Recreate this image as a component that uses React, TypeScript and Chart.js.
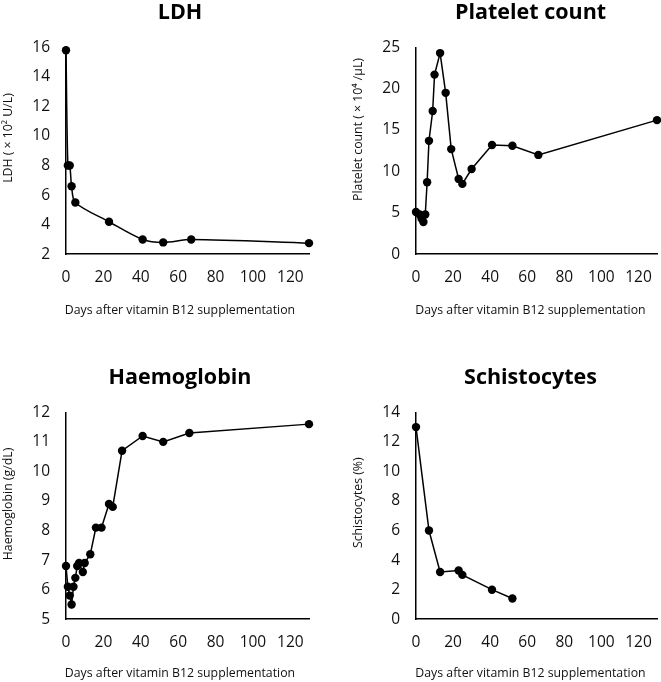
import React, { useEffect, useRef } from 'react';
import { Chart, registerables } from 'chart.js';

Chart.register(...registerables);

// ---------- data ----------
const xAxisTitle = 'Days after vitamin B12 supplementation';
const xTickStep = 20;
const xMin = 0;
const xMax = 130;

const ldhTitle = 'LDH';
const ldhAxisTitle = 'LDH ( × 10² U/L)';
const ldhDays = [0, 1, 2, 3, 5, 23, 41, 52, 67, 130];
const ldhValues = [15.8, 8.0, 8.0, 6.6, 5.5, 4.2, 3.0, 2.8, 3.0, 2.75];
const ldhRange = [2, 16, 2];

const pltTitle = 'Platelet count';
const pltAxisTitle = 'Platelet count ( × 10⁴ /μL)';
const pltDays = [0, 2, 3, 4, 5, 6, 7, 9, 10, 13, 16, 19, 23, 25, 30, 41, 52, 66, 130];
const pltValues = [5.1, 4.8, 4.3, 3.9, 4.8, 8.7, 13.7, 17.3, 21.7, 24.3, 19.5, 12.7, 9.1, 8.5, 10.3, 13.2, 13.1, 12.0, 16.2];
const pltRange = [0, 25, 5];

const hbTitle = 'Haemoglobin';
const hbAxisTitle = 'Haemoglobin (g/dL)';
const hbDays = [0, 1, 2, 3, 4, 5, 6, 7, 9, 10, 13, 16, 19, 23, 25, 30, 41, 52, 66, 130];
const hbValues = [6.8, 6.1, 5.8, 5.5, 6.1, 6.4, 6.8, 6.9, 6.6, 6.9, 7.2, 8.1, 8.1, 8.9, 8.8, 10.7, 11.2, 11.0, 11.3, 11.6];
const hbRange = [5, 12, 1];

const schTitle = 'Schistocytes';
const schAxisTitle = 'Schistocytes (%)';
const schDays = [0, 7, 13, 23, 25, 41, 52];
const schValues = [13.0, 6.0, 3.2, 3.3, 3.0, 2.0, 1.4];
const schRange = [0, 14, 2];

// ---------- styling ----------
const FONT = '"Open Sans", "Noto Sans", sans-serif';
const TEXT = '#111';
const AXIS_TITLE_SIZE = 12.3;

const yTitlePlugin = {
  id: 'yTitle',
  afterDraw(chart: any, _args: any, opts: any) {
    if (!opts || !opts.text) return;
    const { ctx, chartArea } = chart;
    ctx.save();
    ctx.translate(chartArea.left - opts.offsetX, opts.centerY);
    ctx.rotate(-Math.PI / 2);
    ctx.font = `${opts.size}px ${FONT}`;
    ctx.fillStyle = TEXT;
    ctx.textAlign = 'center';
    ctx.textBaseline = 'middle';
    ctx.fillText(opts.text, 0, 0);
    ctx.restore();
  },
};

type PanelProps = {
  left: number;
  top: number;
  width: number;
  height: number;
  yAxisWidth: number;
  rightPad: number;
  xTitleTop: number;
  xTitleBottom: number;
  title: string;
  yTitle: string;
  yTitleY: number;
  days: number[];
  values: number[];
  range: number[];
  tension: number;
};

function Panel(p: PanelProps) {
  const ref = useRef<HTMLCanvasElement | null>(null);
  useEffect(() => {
    if (!ref.current) return;
    const points = p.days.map((d, i) => ({ x: d, y: p.values[i] }));
    const chart = new Chart(ref.current, {
      type: 'scatter',
      data: {
        datasets: [
          {
            data: points,
            showLine: true,
            borderColor: '#000',
            backgroundColor: '#000',
            borderWidth: 1.5,
            pointRadius: 4.2,
            pointHoverRadius: 4.2,
            pointBorderWidth: 0,
            tension: p.tension,
            clip: false as any,
          },
        ],
      },
      options: {
        responsive: false,
        animation: false,
        devicePixelRatio: 1,
        layout: { padding: 0 },
        plugins: {
          legend: { display: false },
          tooltip: { enabled: false },
          title: {
            display: true,
            text: p.title,
            color: '#000',
            font: { family: FONT, size: 21.5, weight: 'bold', lineHeight: 1.2 },
            padding: { top: 0, bottom: 21.5 },
          },
          subtitle: {
            display: true,
            position: 'bottom',
            text: xAxisTitle,
            color: TEXT,
            font: { family: FONT, size: AXIS_TITLE_SIZE, lineHeight: 1.2 },
            padding: { top: p.xTitleTop, bottom: p.xTitleBottom },
          },
          yTitle: { text: p.yTitle, size: AXIS_TITLE_SIZE, offsetX: 58, centerY: p.yTitleY },
        } as any,
        scales: {
          x: {
            type: 'linear',
            position: 'bottom',
            min: xMin,
            max: xMax,
            grid: { display: true, drawOnChartArea: false, drawTicks: false, color: 'rgba(0,0,0,0)' },
            border: { display: true, color: '#000', width: 1.5 },
            ticks: {
              stepSize: xTickStep,
              includeBounds: false,
              padding: 14,
              color: TEXT,
              maxRotation: 0,
              font: { family: FONT, size: 15.5, lineHeight: 1.2 },
            },
            afterFit: (s: any) => {
              s.height = 32;
            },
          },
          y: {
            type: 'linear',
            position: 'left',
            min: p.range[0],
            max: p.range[1],
            grid: { display: true, drawOnChartArea: false, drawTicks: false, color: 'rgba(0,0,0,0)' },
            border: { display: true, color: '#000', width: 1.5 },
            ticks: {
              stepSize: p.range[2],
              padding: 16,
              color: TEXT,
              font: { family: FONT, size: 15.5, lineHeight: 1.2 },
            },
            afterFit: (s: any) => {
              s.width = p.yAxisWidth;
            },
          },
          pad: {
            type: 'linear',
            position: 'right',
            display: true,
            grid: { display: false },
            border: { display: false },
            ticks: { display: false },
            afterFit: (s: any) => {
              s.width = p.rightPad;
            },
          },
        } as any,
      },
      plugins: [yTitlePlugin],
    });
    return () => chart.destroy();
  }, []);
  return (
    <canvas
      ref={ref}
      width={p.width}
      height={p.height}
      style={{ position: 'absolute', left: p.left, top: p.top, width: p.width, height: p.height, display: 'block' }}
    />
  );
}

export default function App() {
  return (
    <div
      style={{
        position: 'absolute',
        left: 0,
        top: 0,
        width: 661,
        height: 682,
        overflow: 'hidden',
        background: '#fff',
      }}
    >
      <Panel left={0} top={0} width={360} height={330} yAxisWidth={66} rightPad={51} xTitleTop={16.5} xTitleBottom={12.5}
        title={ldhTitle} yTitle={ldhAxisTitle} yTitleY={138}
        days={ldhDays} values={ldhValues} range={ldhRange} tension={0.3} />
      <Panel left={349} top={0} width={363} height={330} yAxisWidth={67} rightPad={55} xTitleTop={16.5} xTitleBottom={12.5}
        title={pltTitle} yTitle={pltAxisTitle} yTitleY={129.5}
        days={pltDays} values={pltValues} range={pltRange} tension={0} />
      <Panel left={0} top={365} width={360} height={330} yAxisWidth={66} rightPad={51} xTitleTop={14.5} xTitleBottom={14.5}
        title={hbTitle} yTitle={hbAxisTitle} yTitleY={139}
        days={hbDays} values={hbValues} range={hbRange} tension={0} />
      <Panel left={349} top={365} width={363} height={330} yAxisWidth={67} rightPad={55} xTitleTop={14.5} xTitleBottom={14.5}
        title={schTitle} yTitle={schAxisTitle} yTitleY={137.7}
        days={schDays} values={schValues} range={schRange} tension={0} />
    </div>
  );
}
